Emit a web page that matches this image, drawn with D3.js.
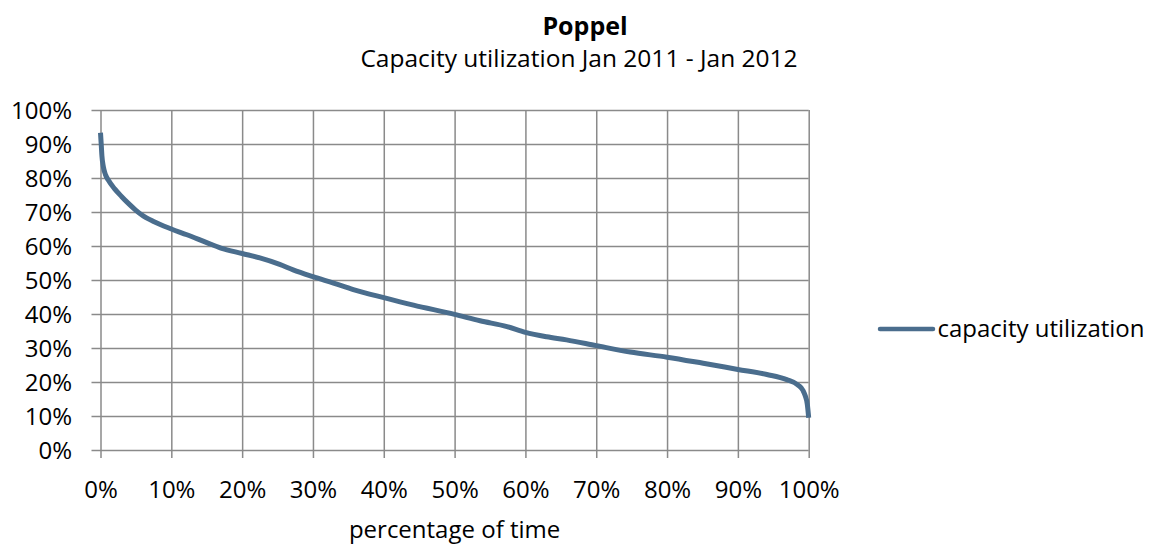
<!DOCTYPE html>
<html>
<head>
<meta charset="utf-8">
<script src="https://cdn.jsdelivr.net/npm/d3@7"></script>
<style>
  html, body { margin: 0; padding: 0; background: #fff; }
  svg { display: block; }
  text { font-family: "Open Sans", "Noto Sans", sans-serif; fill: #000; }
</style>
</head>
<body>
<svg id="chart" width="1154" height="547"></svg>
<script>
// Data (percentage of time, capacity utilization %)
const timePct = [0, 0.1, 0.2, 0.4, 0.7, 1.1, 2.0, 3.0, 3.9, 5.0, 5.8, 7.5, 10, 12.2, 15, 17, 20, 22.5, 25.3, 27.2, 30, 32.9, 35.7, 40, 44.2, 50, 53.6, 57.4, 60, 63, 65.8, 70, 74.8, 80, 85.1, 90, 94.1, 96.9, 98.5, 99.2, 99.5, 99.8, 100];
const utilization = [93.3, 90, 86.5, 83.3, 81, 79.4, 76.8, 74.5, 72.6, 70.5, 69.2, 67.2, 65, 63.3, 61, 59.4, 57.8, 56.5, 54.6, 53, 51, 49.1, 47.2, 44.8, 42.6, 39.9, 38, 36.3, 34.6, 33.3, 32.4, 30.7, 28.8, 27.3, 25.5, 23.7, 22.2, 20.7, 19.1, 17.5, 16, 13.5, 9.5];
const xTicks = [0, 10, 20, 30, 40, 50, 60, 70, 80, 90, 100];
const yTicks = [0, 10, 20, 30, 40, 50, 60, 70, 80, 90, 100];
const titleText = "Poppel";
const subtitleText = "Capacity utilization Jan 2011 - Jan 2012";
const xAxisTitle = "percentage of time";
const seriesName = "capacity utilization";

(function () {
const svg = d3.select("#chart");
const pL = 100.5, pR = 808.7, pT = 110, pB = 450;
const x = d3.scaleLinear().domain([0, 100]).range([pL, pR]);
const y = d3.scaleLinear().domain([0, 100]).range([pB, pT]);
const gridColor = "#8a8a8a";
const lineColor = "#4a6d8d";
const fs = 24;

// horizontal gridlines + left ticks
const yAxis = d3.axisLeft(y).tickValues(yTicks).tickFormat(d => d + "%").tickSize(pR - pL + 9).tickSizeOuter(0);
const gy = svg.append("g").attr("transform", `translate(${pR},0)`).call(yAxis);
gy.select(".domain").remove();
gy.selectAll(".tick line").attr("stroke", gridColor).attr("stroke-width", 1.5);
gy.selectAll(".tick text").attr("x", -(pR - 72)).attr("dx", 0).attr("dy", "0.37em")
  .attr("text-anchor", "end").style("font-size", fs + "px").style("font-family", '"Open Sans", sans-serif').attr("fill", "#000");

// vertical gridlines + bottom ticks
const xAxis = d3.axisBottom(x).tickValues(xTicks).tickFormat(d => d + "%").tickSize(pB - pT + 8).tickSizeOuter(0);
const gx = svg.append("g").attr("transform", `translate(0,${pT})`).call(xAxis);
gx.select(".domain").remove();
gx.selectAll(".tick line").attr("stroke", gridColor).attr("stroke-width", 1.5);
gx.selectAll(".tick text").attr("y", 498 - pT).attr("dy", 0)
  .style("font-size", fs + "px").style("font-family", '"Open Sans", sans-serif').attr("fill", "#000");

// series line
const data = timePct.map((t, i) => [t, utilization[i]]);
const line = d3.line().x(d => x(d[0])).y(d => y(d[1])).curve(d3.curveMonotoneX);
svg.append("path").datum(data).attr("d", line)
  .attr("fill", "none").attr("stroke", lineColor).attr("stroke-width", 5)
  .attr("stroke-linejoin", "round").attr("stroke-linecap", "butt");

// titles
svg.append("text").attr("x", 585).attr("y", 35).attr("text-anchor", "middle")
  .style("font-size", "25px").style("font-weight", "bold").text(titleText);
svg.append("text").attr("x", 579).attr("y", 67).attr("text-anchor", "middle")
  .style("font-size", "24.5px").text(subtitleText);
svg.append("text").attr("x", (pL + pR) / 2).attr("y", 538).attr("text-anchor", "middle")
  .style("font-size", fs + "px").text(xAxisTitle);

// legend
svg.append("line").attr("x1", 880).attr("x2", 933).attr("y1", 329).attr("y2", 329)
  .attr("stroke", lineColor).attr("stroke-width", 4.5).attr("stroke-linecap", "round");
svg.append("text").attr("x", 937.5).attr("y", 337).style("font-size", fs + "px").text(seriesName);
})();
</script>
</body>
</html>
